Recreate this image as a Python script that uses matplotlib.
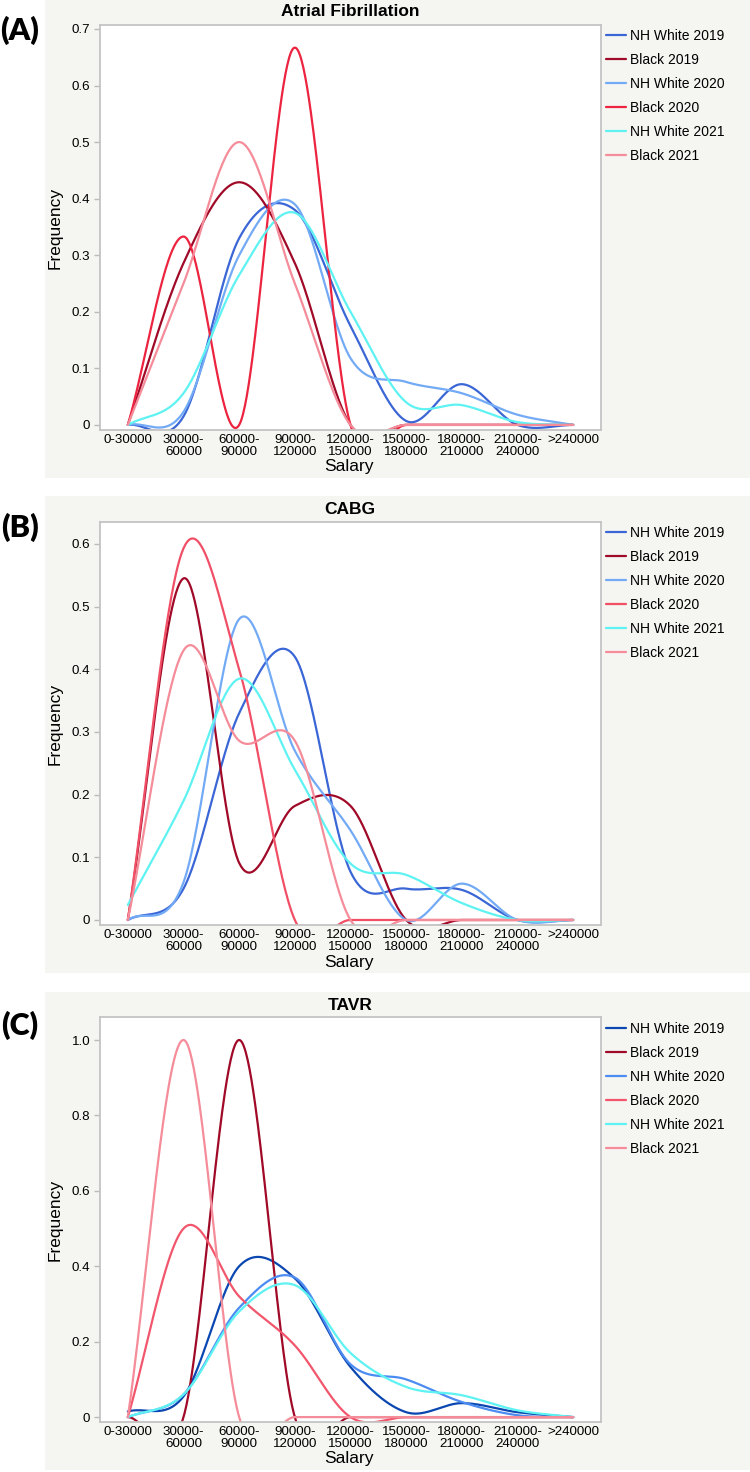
import numpy as np
import matplotlib
matplotlib.use("Agg")
import matplotlib.pyplot as plt
from matplotlib.patches import Rectangle

plt.rcParams['font.family'] = ['Liberation Sans', 'DejaVu Sans']

salary = ["0-30000", "30000-\n60000", "60000-\n90000", "90000-\n120000", "120000-\n150000",
          "150000-\n180000", "180000-\n210000", "210000-\n240000", ">240000"]
groups = ["NH White 2019", "Black 2019", "NH White 2020", "Black 2020", "NH White 2021", "Black 2021"]

# (A) Atrial Fibrillation
afib_white_2019 = [0, 0.015, 0.33, 0.38, 0.175, 0.007, 0.072, 0.0, 0.0]
afib_black_2019 = [0, 0.286, 0.429, 0.286, 0, 0, 0, 0, 0]
afib_white_2020 = [0, 0.023, 0.30, 0.39, 0.118, 0.076, 0.056, 0.018, 0]
afib_black_2020 = [0, 0.333, 0, 0.667, 0, 0, 0, 0, 0]
afib_white_2021 = [0, 0.056, 0.265, 0.375, 0.20, 0.04, 0.035, 0.005, 0]
afib_black_2021 = [0, 0.25, 0.5, 0.25, 0, 0, 0, 0, 0]

# (B) CABG
cabg_white_2019 = [0, 0.05, 0.33, 0.42, 0.077, 0.05, 0.048, 0, 0]
cabg_black_2019 = [0, 0.545, 0.091, 0.182, 0.182, 0, 0, 0, 0]
cabg_white_2020 = [0, 0.06, 0.48, 0.27, 0.143, 0, 0.058, 0, 0]
cabg_black_2020 = [0, 0.593, 0.4, 0, 0, 0, 0, 0, 0]
cabg_white_2021 = [0.024, 0.19, 0.385, 0.24, 0.09, 0.072, 0.027, 0, 0]
cabg_black_2021 = [0, 0.43, 0.286, 0.286, 0, 0, 0, 0, 0]

# (C) TAVR
tavr_white_2019 = [0.015, 0.055, 0.40, 0.368, 0.133, 0.013, 0.037, 0.013, 0]
tavr_black_2019 = [0, 0, 1.0, 0, 0, 0, 0, 0, 0]
tavr_white_2020 = [0, 0.06, 0.29, 0.37, 0.14, 0.10, 0.04, 0.005, 0]
tavr_black_2020 = [0, 0.5, 0.32, 0.19, 0, 0, 0, 0, 0]
tavr_white_2021 = [0, 0.06, 0.28, 0.35, 0.17, 0.08, 0.058, 0.018, 0]
tavr_black_2021 = [0, 1.0, 0, 0, 0, 0, 0, 0, 0]


def smooth(y, n=60):
    # cubic hermite (catmull-rom) through the category points
    y = np.asarray(y, float)
    k = len(y)
    m = np.zeros(k)
    m[1:-1] = (y[2:] - y[:-2]) / 2
    m[0] = y[1] - y[0]
    m[-1] = y[-1] - y[-2]
    xs, ys = [], []
    t = np.linspace(0, 1, n)
    h00 = 2 * t**3 - 3 * t**2 + 1
    h10 = t**3 - 2 * t**2 + t
    h01 = -2 * t**3 + 3 * t**2
    h11 = t**3 - t**2
    for i in range(k - 1):
        xs.append(i + t)
        ys.append(y[i] * h00 + m[i] * h10 + y[i + 1] * h01 + m[i + 1] * h11)
    return np.concatenate(xs), np.concatenate(ys)


W, H = 750, 1472
fig = plt.figure(figsize=(W / 100, H / 100), dpi=100)

def fy(p):
    return 1 - p / H

panels = [
    dict(tag="(A)", title="Atrial Fibrillation", bg=(0, 478), box=(25, 430), ylim=(-0.009, 0.707),
         yticks=np.arange(0, 0.71, 0.1), fmt="%.1f", tag_y=30, title_y=12, xl_y=467, leg_y=29,
         series=[afib_white_2019, afib_black_2019, afib_white_2020, afib_black_2020, afib_white_2021, afib_black_2021],
         colors=["#3A66D6", "#A00A28", "#73AAF5", "#EC2440", "#5EF2F2", "#F58C9A"]),
    dict(tag="(B)", title="CABG", bg=(496, 973), box=(522, 925), ylim=(-0.008, 0.635),
         yticks=np.arange(0, 0.61, 0.1), fmt="%.1f", tag_y=527, title_y=509, xl_y=962, leg_y=526,
         series=[cabg_white_2019, cabg_black_2019, cabg_white_2020, cabg_black_2020, cabg_white_2021, cabg_black_2021],
         colors=["#3A66D6", "#A00A28", "#73AAF5", "#F04F66", "#5EF2F2", "#F58C9A"]),
    dict(tag="(C)", title="TAVR", bg=(992, 1470), box=(1017, 1422), ylim=(-0.013, 1.061),
         yticks=np.arange(0, 1.01, 0.2), fmt="%.1f", tag_y=1025, title_y=1005, xl_y=1459, leg_y=1022,
         series=[tavr_white_2019, tavr_black_2019, tavr_white_2020, tavr_black_2020, tavr_white_2021, tavr_black_2021],
         colors=["#0B47B0", "#A00A28", "#4C8CF2", "#F2566C", "#5EF2F2", "#F58C9A"]),
]

for p in panels:
    top, bot = p["bg"]
    fig.patches.append(Rectangle((45 / W, fy(bot)), 1 - 45 / W, (bot - top) / H,
                                 transform=fig.transFigure, facecolor="#F5F5F1", edgecolor="none", zorder=-10))
    t, b = p["box"]
    ax = fig.add_axes([100 / W, fy(b), 501 / W, (b - t) / H])
    ax.set_zorder(2)
    ax.set_facecolor("white")
    for s, c, name in zip(p["series"], p["colors"], groups):
        xs, ys = smooth(s)
        ax.plot(xs, ys, color=c, lw=1.6, label=name, solid_capstyle="round")
    ax.set_xlim(-0.5, 8.5)
    ax.set_ylim(*p["ylim"])
    ax.set_xticks(range(len(salary)))
    ax.set_xticklabels(salary, fontsize=9.6, linespacing=1.0)
    ax.set_yticks(p["yticks"])
    ax.set_yticklabels(["0"] + [p["fmt"] % v for v in p["yticks"][1:]], fontsize=9.6)
    ax.tick_params(axis="x", length=0, pad=3)
    ax.tick_params(axis="y", length=4, color="#BBBBBB", width=1, pad=3)
    for sp in ax.spines.values():
        sp.set_color("#C4C4C4")
        sp.set_linewidth(1.3)
    fig.text(55 / W, fy((t + b) / 2), "Frequency", rotation=90, ha="center", va="center", fontsize=12.5)
    fig.text(349 / W, fy(p["xl_y"]), "Salary", ha="center", va="center", fontsize=12.5)
    fig.text(350 / W, fy(p["title_y"]), p["title"], ha="center", va="center", fontsize=12.5, fontweight="bold")
    fig.text(20 / W, fy(p["tag_y"]), p["tag"], ha="center", va="center", fontsize=22,
             fontweight="heavy", family=["Lato", "DejaVu Sans"])
    fig.legend(*ax.get_legend_handles_labels(), loc="upper left",
               bbox_to_anchor=(606 / W, fy(p["leg_y"])), frameon=False, fontsize=10,
               handlelength=1.45, handletextpad=0.3, labelspacing=0.72,
               borderpad=0, borderaxespad=0)

fig.savefig("out.png", dpi=100)
